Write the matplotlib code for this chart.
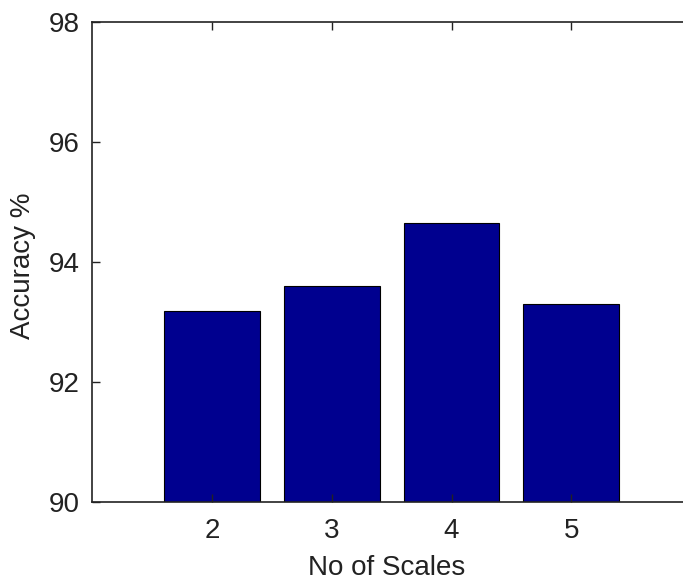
import matplotlib
matplotlib.use('Agg')
import matplotlib.pyplot as plt

# Accuracy for each number of scales
scales = [2, 3, 4, 5]
accuracy = [93.18, 93.6, 94.64, 93.29]
y_ticks = [90, 92, 94, 96, 98]

plt.rcParams['font.family'] = ['Liberation Sans', 'DejaVu Sans']

fig = plt.figure(figsize=(6.83, 5.82), dpi=100)
ax = fig.add_axes([92.3 / 683, (582 - 501.7) / 582, (691 - 92.3) / 683, (501.7 - 21.7) / 582])

ax.bar(scales, accuracy, width=0.8, color='#00008f', edgecolor='black', linewidth=0.8, bottom=0)
ax.set_xlim(1, 6)
ax.set_ylim(90, 98)
ax.set_xticks(scales)
ax.set_yticks(y_ticks)

ax.tick_params(direction='in', length=6, width=1, top=True, right=True,
               labelsize=20, colors='#222222')
ax.tick_params(axis='x', pad=12)
ax.tick_params(axis='y', pad=9)
for s in ax.spines.values():
    s.set_linewidth(1.2)
    s.set_color('#222222')

ax.set_xlabel('No of Scales', fontsize=20, color='#222222')
ax.set_ylabel('Accuracy %', fontsize=20, color='#222222')
ax.xaxis.set_label_coords(0.492, -0.111)
ax.yaxis.set_label_coords(-0.094, 0.491)

fig.savefig('out.png', dpi=100)
